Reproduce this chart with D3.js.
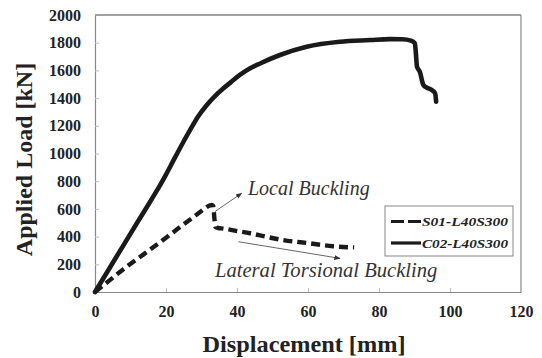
<!DOCTYPE html>
<html>
<head>
<meta charset="utf-8">
<script src="https://cdn.jsdelivr.net/npm/d3@7"></script>
<style>
  html, body { margin: 0; padding: 0; background: #fff; }
  svg { display: block; }
</style>
</head>
<body>
<svg id="chart" width="542" height="358"></svg>
<script>
// Load–displacement curves for the two specimens
const c02Disp = [0, 4, 8, 12, 16, 18.3, 20, 22.1, 24.5, 26.8, 29, 31.5, 34, 36.2, 38.5, 40.8, 43.7, 46.5, 52.1, 59.6, 69, 77.5, 83, 86.5, 89, 90.1, 90.4, 90.7, 91.5, 92.5, 93.5, 94.8, 95.8, 96.1];
const c02Load = [0, 168, 337, 505, 672, 770, 848, 950, 1065, 1170, 1265, 1350, 1420, 1471, 1520, 1567, 1615, 1650, 1711, 1771, 1807, 1819, 1826, 1825, 1815, 1796, 1720, 1627, 1590, 1495, 1475, 1459, 1435, 1374];

const s01Disp = [0, 4, 8, 13.6, 20.2, 24, 27.7, 30, 32.9, 33.3, 33.6, 33.9, 34.7, 36.1, 40, 43.7, 48, 53, 60.6, 67, 73];
const s01Load = [0, 82, 165, 270, 395, 470, 540, 585, 628, 622, 540, 471, 462, 458, 440, 424, 400, 375, 351, 330, 322];

const seriesNames = ["S01-L40S300", "C02-L40S300"];
const xTicks = [0, 20, 40, 60, 80, 100, 120];
const yTicks = [0, 200, 400, 600, 800, 1000, 1200, 1400, 1600, 1800, 2000];

// Annotation anchors, in data units
const localArrow = [[33.8, 581], [41.3, 713]];
const localLabel = { text: "Local Buckling", x: 43.1, y: 700 };
const ltbArrow = [[40.4, 363], [69, 243]];
const ltbLabel = { text: "Lateral Torsional Buckling", x: 33.8, y: 110 };

const serif = "'Liberation Serif', 'Times New Roman', serif";
const svg = d3.select("#chart");
const x = d3.scaleLinear().domain([0, 120]).range([95, 521]);
const y = d3.scaleLinear().domain([0, 2000]).range([292, 15]);

// Plot frame
svg.append("line").attr("x1", x(0)).attr("x2", x(120)).attr("y1", y(2000)).attr("y2", y(2000))
  .attr("stroke", "#444").attr("stroke-width", 1.2);
svg.append("line").attr("x1", x(120)).attr("x2", x(120)).attr("y1", y(2000)).attr("y2", y(0))
  .attr("stroke", "#888").attr("stroke-width", 1.2);

// Axes with short inward ticks
const fmt = d3.format("d");
const xAxis = svg.append("g").attr("transform", `translate(0,${y(0)})`)
  .call(d3.axisBottom(x).tickValues(xTicks).tickFormat(fmt).tickSizeInner(-4).tickSizeOuter(0).tickPadding(14));
const yAxis = svg.append("g").attr("transform", `translate(${x(0)},0)`)
  .call(d3.axisLeft(y).tickValues(yTicks).tickFormat(fmt).tickSizeInner(-4).tickSizeOuter(0).tickPadding(14));
[xAxis, yAxis].forEach(g => {
  g.attr("font-family", null);
  g.select(".domain").attr("stroke", "#888").attr("stroke-width", 1.2);
  g.selectAll(".tick line").attr("stroke", "#bbb");
  g.selectAll(".tick text")
    .style("font-family", serif)
    .style("font-weight", "bold").style("font-size", "16px").style("fill", "#222");
});
xAxis.selectAll(".tick").filter(d => d === 0 || d === 120).select("line").remove();
yAxis.selectAll(".tick").filter(d => d === 0 || d === 2000).select("line").remove();

// Curves
const line = d3.line().x(d => x(d[0])).y(d => y(d[1])).curve(d3.curveMonotoneX);
const c02 = c02Disp.map((d, i) => [d, c02Load[i]]);
const s01 = s01Disp.map((d, i) => [d, s01Load[i]]);

svg.append("path").datum(c02).attr("d", line)
  .attr("fill", "none").attr("stroke", "#1a1a1a").attr("stroke-width", 4.6)
  .attr("stroke-linecap", "round").attr("stroke-linejoin", "round");
svg.append("path").datum(s01).attr("d", line)
  .attr("fill", "none").attr("stroke", "#1a1a1a").attr("stroke-width", 4.4)
  .attr("stroke-dasharray", "9,5").attr("stroke-linejoin", "round");

// Annotations
const defs = svg.append("defs");
defs.append("marker").attr("id", "arrowhead").attr("viewBox", "0 0 10 10")
  .attr("refX", 9).attr("refY", 5).attr("markerWidth", 7).attr("markerHeight", 7)
  .attr("orient", "auto")
  .append("path").attr("d", "M0,1 L10,5 L0,9 Z").attr("fill", "#333");

[localArrow, ltbArrow].forEach(a => {
  svg.append("line")
    .attr("x1", x(a[0][0])).attr("y1", y(a[0][1]))
    .attr("x2", x(a[1][0])).attr("y2", y(a[1][1]))
    .attr("stroke", "#555").attr("stroke-width", 0.9)
    .attr("marker-end", "url(#arrowhead)");
});
[[localLabel, 20], [ltbLabel, 20.6]].forEach(([l, size]) => {
  svg.append("text").attr("x", x(l.x)).attr("y", y(l.y))
    .style("font-family", serif)
    .attr("font-style", "italic").attr("font-size", size).attr("fill", "#333")
    .text(l.text);
});

// Legend
const lg = svg.append("g");
lg.append("rect").attr("x", 385).attr("y", 206).attr("width", 128).attr("height", 50)
  .attr("fill", "#fff").attr("stroke", "#888").attr("stroke-width", 1);
const legendRows = [
  { name: seriesNames[0], dash: "13,4", yy: 221.5 },
  { name: seriesNames[1], dash: null, yy: 243 }
];
legendRows.forEach(r => {
  const ln = lg.append("line").attr("x1", 391).attr("x2", 421)
    .attr("y1", r.yy).attr("y2", r.yy).attr("stroke", "#1a1a1a").attr("stroke-width", 3.2);
  if (r.dash) ln.attr("stroke-dasharray", r.dash);
  lg.append("text").attr("x", 422).attr("y", r.yy + 4.5)
    .style("font-family", serif)
    .attr("font-style", "italic").attr("font-weight", "bold").attr("font-size", 13)
    .attr("fill", "#222")
    .attr("textLength", 86).attr("lengthAdjust", "spacingAndGlyphs")
    .text(r.name);
});

// Axis titles
svg.append("text").attr("x", 304).attr("y", 352)
  .style("font-family", serif).attr("fill", "#222")
  .attr("text-anchor", "middle").attr("font-weight", "bold").attr("font-size", 24)
  .attr("textLength", 203).attr("lengthAdjust", "spacingAndGlyphs")
  .text("Displacement [mm]");
svg.append("text").attr("transform", `translate(32,${159.5}) rotate(-90)`)
  .style("font-family", serif).attr("fill", "#222")
  .attr("text-anchor", "middle").attr("font-weight", "bold").attr("font-size", 24)
  .text("Applied Load [kN]");
</script>
</body>
</html>
